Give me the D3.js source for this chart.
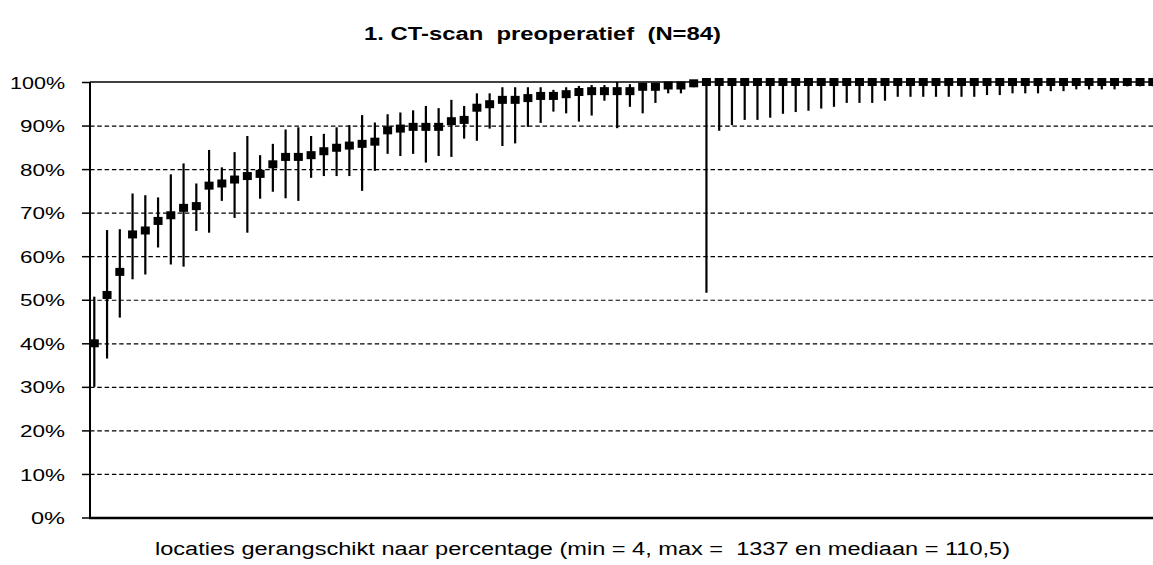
<!DOCTYPE html>
<html>
<head>
<meta charset="utf-8">
<script src="https://cdn.jsdelivr.net/npm/d3@7"></script>
<style>
  body { margin: 0; background: #fff; }
  svg { display: block; }
  text { font-family: "Liberation Sans", Arial, sans-serif; fill: #000; }
</style>
</head>
<body>
<svg id="chart" width="1153" height="565"></svg>
<script>
const titleText = "1. CT-scan  preoperatief  (N=84)";
const xLabelText = "locaties gerangschikt naar percentage (min = 4, max =  1337 en mediaan = 110,5)";
const yTicks = [0, 10, 20, 30, 40, 50, 60, 70, 80, 90, 100];

const values = [
  40.0, 51.1, 56.4, 65.0, 65.9, 68.1, 69.4, 71.1, 71.5, 76.2,
  76.7, 77.6, 78.4, 78.9, 81.1, 82.8, 82.8, 83.2, 84.1, 84.9,
  85.4, 85.8, 86.3, 88.9, 89.3, 89.7, 89.7, 89.7, 91.0, 91.3,
  94.1, 94.9, 95.9, 95.9, 96.3, 96.8, 96.8, 97.2, 97.7, 97.9,
  97.9, 97.9, 97.9, 98.9, 98.9, 99.2, 99.2, 99.7, 100, 100,
  100, 100, 100, 100, 100, 100, 100, 100, 100, 100,
  100, 100, 100, 100, 100, 100, 100, 100, 100, 100,
  100, 100, 100, 100, 100, 100, 100, 100, 100, 100,
  100, 100, 100, 100
];
const upper = [
  50.7, 66.0, 66.2, 74.4, 74.0, 73.5, 78.8, 81.3, 76.7, 84.4,
  80.4, 83.9, 87.6, 83.2, 85.8, 89.1, 89.6, 87.6, 88.1, 89.6,
  90.1, 92.4, 90.7, 92.6, 93.0, 93.5, 94.5, 94.0, 95.9, 94.5,
  97.4, 97.4, 98.8, 98.8, 98.8, 98.8, 98.2, 98.8, 99.1, 99.3,
  99.3, 100, 99.5, 99.8, 99.8, 100, 100, 100, 100, 100,
  100, 100, 100, 100, 100, 100, 100, 100, 100, 100,
  100, 100, 100, 100, 100, 100, 100, 100, 100, 100,
  100, 100, 100, 100, 100, 100, 100, 100, 100, 100,
  100, 100, 100, 100
];
const lower = [
  30.0, 36.5, 45.9, 54.7, 55.8, 62.0, 58.1, 57.6, 65.8, 65.4,
  72.7, 68.8, 65.4, 73.2, 74.8, 73.3, 72.7, 78.0, 78.4, 78.4,
  78.4, 75.0, 79.6, 83.5, 83.0, 83.5, 81.5, 83.0, 82.8, 87.0,
  86.5, 89.3, 85.3, 85.9, 89.7, 90.6, 93.2, 92.8, 90.9, 92.3,
  95.7, 89.4, 94.3, 92.8, 95.2, 97.4, 97.4, 98.8, 51.6, 88.8,
  90.1, 91.3, 91.3, 91.8, 92.7, 93.1, 93.4, 93.9, 94.3, 95.2,
  95.2, 95.2, 95.7, 96.6, 96.6, 96.6, 96.6, 96.6, 96.6, 96.6,
  97.0, 97.0, 97.4, 97.4, 97.4, 97.9, 97.9, 98.3, 98.3, 98.3,
  98.3, 99.0, 99.0, 99.0
];
const locations = values.map((d, i) => i + 1);

const svg = d3.select("#chart");
const plotLeft = 90, plotRight = 1160, plotTop = 82, plotBottom = 517.5;

const x = d3.scalePoint().domain(locations).range([94.3, 1152.8]);
const y = d3.scaleLinear().domain([0, 100]).range([plotBottom, plotTop]);

// gridlines
const grid = svg.append("g")
  .attr("transform", `translate(${plotLeft},0)`)
  .call(d3.axisLeft(y).tickValues(yTicks.filter(t => t > 0 && t < 100))
    .tickSize(-(plotRight - plotLeft)).tickFormat(""));
grid.select(".domain").remove();
grid.selectAll(".tick line")
  .attr("stroke", "#000").attr("stroke-width", 1.2).attr("stroke-dasharray", "4.5,2.8");

// plot border top
svg.append("line")
  .attr("x1", plotLeft).attr("x2", plotRight)
  .attr("y1", y(100)).attr("y2", y(100))
  .attr("stroke", "#000").attr("stroke-width", 1.5);

// error bars
svg.append("g").selectAll("line")
  .data(locations)
  .join("line")
  .attr("x1", d => x(d)).attr("x2", d => x(d))
  .attr("y1", (d, i) => y(upper[i])).attr("y2", (d, i) => y(lower[i]))
  .attr("stroke", "#000").attr("stroke-width", 2.2);

// markers
const mw = 9, mh = 8;
svg.append("g").selectAll("rect")
  .data(locations)
  .join("rect")
  .attr("x", d => x(d) - mw / 2)
  .attr("y", (d, i) => y(values[i]) - mh / 2)
  .attr("width", mw).attr("height", mh)
  .attr("fill", "#000");

// y axis
const yAxis = svg.append("g")
  .attr("transform", `translate(${plotLeft},0)`)
  .call(d3.axisLeft(y).tickValues(yTicks).tickSize(8).tickPadding(17)
    .tickFormat(d => d + "%"));
yAxis.select(".domain").attr("stroke", "#000").attr("stroke-width", 2)
  .attr("d", `M0,${plotTop}V${plotBottom}`);
yAxis.selectAll(".tick line").attr("stroke", "#000").attr("stroke-width", 1.5);
yAxis.selectAll(".tick text")
  .attr("font-size", 17).attr("font-family", "Liberation Sans, Arial, sans-serif")
  .attr("fill", "#000")
  .attr("dy", "0.36em")
  .each(function(d) {
    const w = d === 100 ? 55 : (d === 0 ? 34 : 45);
    d3.select(this).attr("textLength", w).attr("lengthAdjust", "spacingAndGlyphs");
  });

// x axis line
svg.append("line")
  .attr("x1", plotLeft - 1).attr("x2", plotRight)
  .attr("y1", plotBottom + 0.5).attr("y2", plotBottom + 0.5)
  .attr("stroke", "#000").attr("stroke-width", 2.6);

// title
svg.append("text")
  .attr("x", 364).attr("y", 40)
  .attr("font-size", 18).attr("font-weight", "bold")
  .attr("textLength", 357).attr("lengthAdjust", "spacingAndGlyphs")
  .style("white-space", "pre")
  .text(titleText);

// x label
svg.append("text")
  .attr("x", 155).attr("y", 555)
  .attr("font-size", 18)
  .attr("textLength", 855).attr("lengthAdjust", "spacingAndGlyphs")
  .style("white-space", "pre")
  .text(xLabelText);
</script>
</body>
</html>
